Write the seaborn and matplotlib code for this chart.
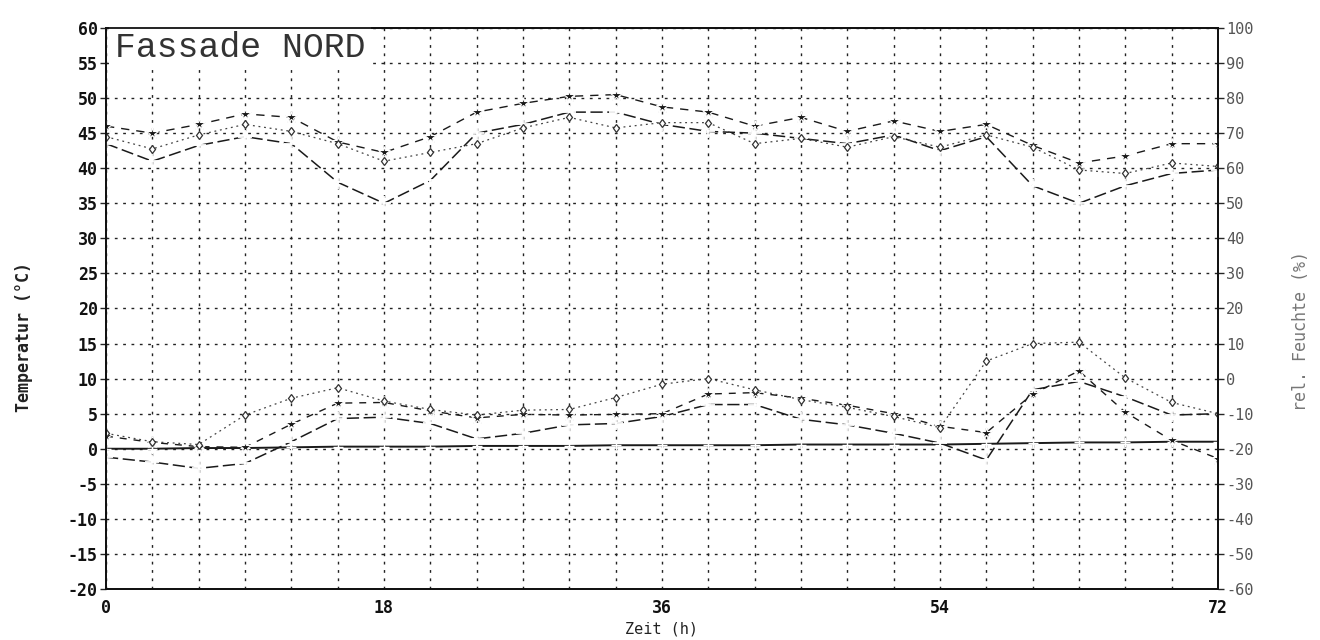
import matplotlib
matplotlib.use("Agg")
import matplotlib.pyplot as plt
import numpy as np
import pandas as pd
import seaborn as sns

# measurement times (h)
hours = [0, 3, 6, 9, 12, 15, 18, 21, 24, 27, 30, 33, 36,
         39, 42, 45, 48, 51, 54, 57, 60, 63, 66, 69, 72]

# relative humidity (%), right axis
rh_a = [72, 70, 72.5, 75.5, 74.5, 67.5, 64.5, 69, 76, 78.5, 80.5, 81, 77.5,
        76, 72, 74.5, 70.5, 73.5, 70.5, 72.5, 66.5, 61.5, 63.5, 67, 67]
rh_b = [67, 62, 66.5, 69, 67, 56, 50, 56.5, 70, 72.5, 76, 76, 72.5,
        70.5, 70, 68.5, 67, 69.5, 65, 69, 55, 50, 55, 58.5, 59.5]
rh_c = [69, 65.5, 69.5, 72.5, 70.5, 67, 62, 64.5, 67, 71.5, 74.5, 71.5, 73,
        73, 67, 68.5, 66, 69, 66, 69.5, 66, 59.5, 58.5, 61.5, 60.5]

# temperatures (°C), left axis
t_d = [-1.2, -1.9, -2.8, -2.1, 1.0, 4.3, 4.5, 3.6, 1.4, 2.2, 3.4, 3.6, 4.6,
       6.3, 6.3, 4.2, 3.4, 2.2, 0.8, -1.6, 8.4, 9.6, 7.4, 4.8, 5.0]
t_e = [2.2, 1.0, 0.6, 4.8, 7.2, 8.7, 6.8, 5.6, 4.8, 5.5, 5.6, 7.3, 9.2,
       10.0, 8.4, 7.0, 5.9, 4.6, 3.0, 12.5, 15.0, 15.2, 10.1, 6.6, 5.0]
t_f = [1.8, 0.9, 0.3, 0.2, 3.5, 6.5, 6.6, 5.4, 4.4, 4.9, 4.8, 4.9, 5.0,
       7.8, 8.0, 7.2, 6.2, 5.0, 3.2, 2.3, 7.8, 11.1, 5.2, 1.2, -1.4]
t_ref = [0.0, 0.0, 0.1, 0.1, 0.2, 0.3, 0.3, 0.3, 0.4, 0.4, 0.4, 0.5, 0.5,
         0.5, 0.5, 0.6, 0.6, 0.6, 0.6, 0.7, 0.8, 0.9, 0.9, 1.0, 1.0]

x_ticks = [0, 18, 36, 54, 72]
temp_ticks = list(range(-20, 61, 5))
rh_ticks = list(range(-60, 101, 10))

sns.set_theme(style="white")
plt.rcParams["font.family"] = ["DejaVu Sans Mono", "DejaVu Sans"]

df = pd.DataFrame({"h": hours, "rh_a": rh_a, "rh_b": rh_b, "rh_c": rh_c,
                   "t_d": t_d, "t_e": t_e, "t_f": t_f, "t_ref": t_ref})

fig = plt.figure(figsize=(13.2, 6.4), dpi=100)
ax = fig.add_axes([0.0803, 0.0797, 0.8424, 0.8766])
ax2 = ax.twinx()

ink = "#1a1a1a"

# temperature curves
sns.lineplot(data=df, x="h", y="t_ref", ax=ax, color=ink, lw=1.4,
             linestyle="-", marker="+", markersize=7, markeredgewidth=1)
sns.lineplot(data=df, x="h", y="t_d", ax=ax, color=ink, lw=1.1,
             linestyle=(0, (8, 3)), marker="+", markersize=10, markeredgewidth=1.3)
sns.lineplot(data=df, x="h", y="t_f", ax=ax, color=ink, lw=1.0,
             linestyle=(0, (5, 5)), marker="*", markersize=9, markeredgewidth=0.8)
sns.lineplot(data=df, x="h", y="t_e", ax=ax, color="#444444", lw=0.9,
             linestyle=(0, (1.5, 3)), marker="d", markersize=4.5,
             markeredgewidth=0.9, markerfacecolor="white",
             markeredgecolor="#333333")

# humidity curves
sns.lineplot(data=df, x="h", y="rh_a", ax=ax2, color=ink, lw=1.0,
             linestyle=(0, (6, 5)), marker="*", markersize=9, markeredgewidth=0.8)
sns.lineplot(data=df, x="h", y="rh_b", ax=ax2, color=ink, lw=1.1,
             linestyle=(0, (8, 3)), marker="+", markersize=10, markeredgewidth=1.3)
sns.lineplot(data=df, x="h", y="rh_c", ax=ax2, color="#444444", lw=0.9,
             linestyle=(0, (1.5, 3)), marker="d", markersize=4.5,
             markeredgewidth=0.9, markerfacecolor="white",
             markeredgecolor="#333333")

# axes ranges and ticks
ax.set_xlim(0, 72)
ax.set_ylim(-20, 60)
ax2.set_ylim(-60, 100)
ax.set_xticks(x_ticks)
ax.set_xticks(np.arange(0, 73, 3), minor=True)
ax.set_yticks(temp_ticks)
ax2.set_yticks(rh_ticks)
ax.set_xticklabels([str(v) for v in x_ticks])
ax.set_yticklabels([str(v) for v in temp_ticks])
ax2.set_yticklabels([str(v) for v in rh_ticks])

ax.grid(True, which="both", axis="x", color="#222222", lw=1.0,
        linestyle=(0, (2, 4)))
ax.grid(True, which="major", axis="y", color="#222222", lw=1.0,
        linestyle=(0, (2, 4)))
ax2.grid(False)
ax.set_axisbelow(True)

ax.tick_params(axis="y", which="major", length=4, width=1, direction="out",
               labelsize=12, labelcolor="#111111", pad=2)
ax.tick_params(axis="x", which="major", length=3, width=1, direction="out",
               labelsize=12, labelcolor="#111111", pad=4)
ax.tick_params(axis="x", which="minor", length=0)
ax2.tick_params(axis="y", length=4, width=1, direction="out",
                labelsize=11, labelcolor="#555555", pad=2)
for lbl in ax.get_yticklabels() + ax.get_xticklabels():
    lbl.set_fontweight("bold")

for a in (ax, ax2):
    for s in a.spines.values():
        s.set_color("#111111")
        s.set_linewidth(1.3)

ax.set_xlabel("Zeit (h)", fontsize=11, color="#222222")
ax.xaxis.set_label_coords(0.5, -0.058)
ax.set_ylabel("Temperatur (°C)", fontsize=12, color="#222222",
              fontweight="bold")
ax.yaxis.set_label_coords(-0.066, 0.45)
ax2.set_ylabel("rel. Feuchte (%)", fontsize=12, color="#777777",
               rotation=90)
ax2.yaxis.set_label_coords(1.067, 0.46)

ax.text(0.008, 0.965, "Fassade NORD", transform=ax.transAxes,
        fontsize=25, family="Liberation Mono", color="#333333",
        ha="left", va="center", zorder=5,
        bbox=dict(facecolor="white", edgecolor="none", pad=4))

fig.savefig("out.png", dpi=100, facecolor="white")
